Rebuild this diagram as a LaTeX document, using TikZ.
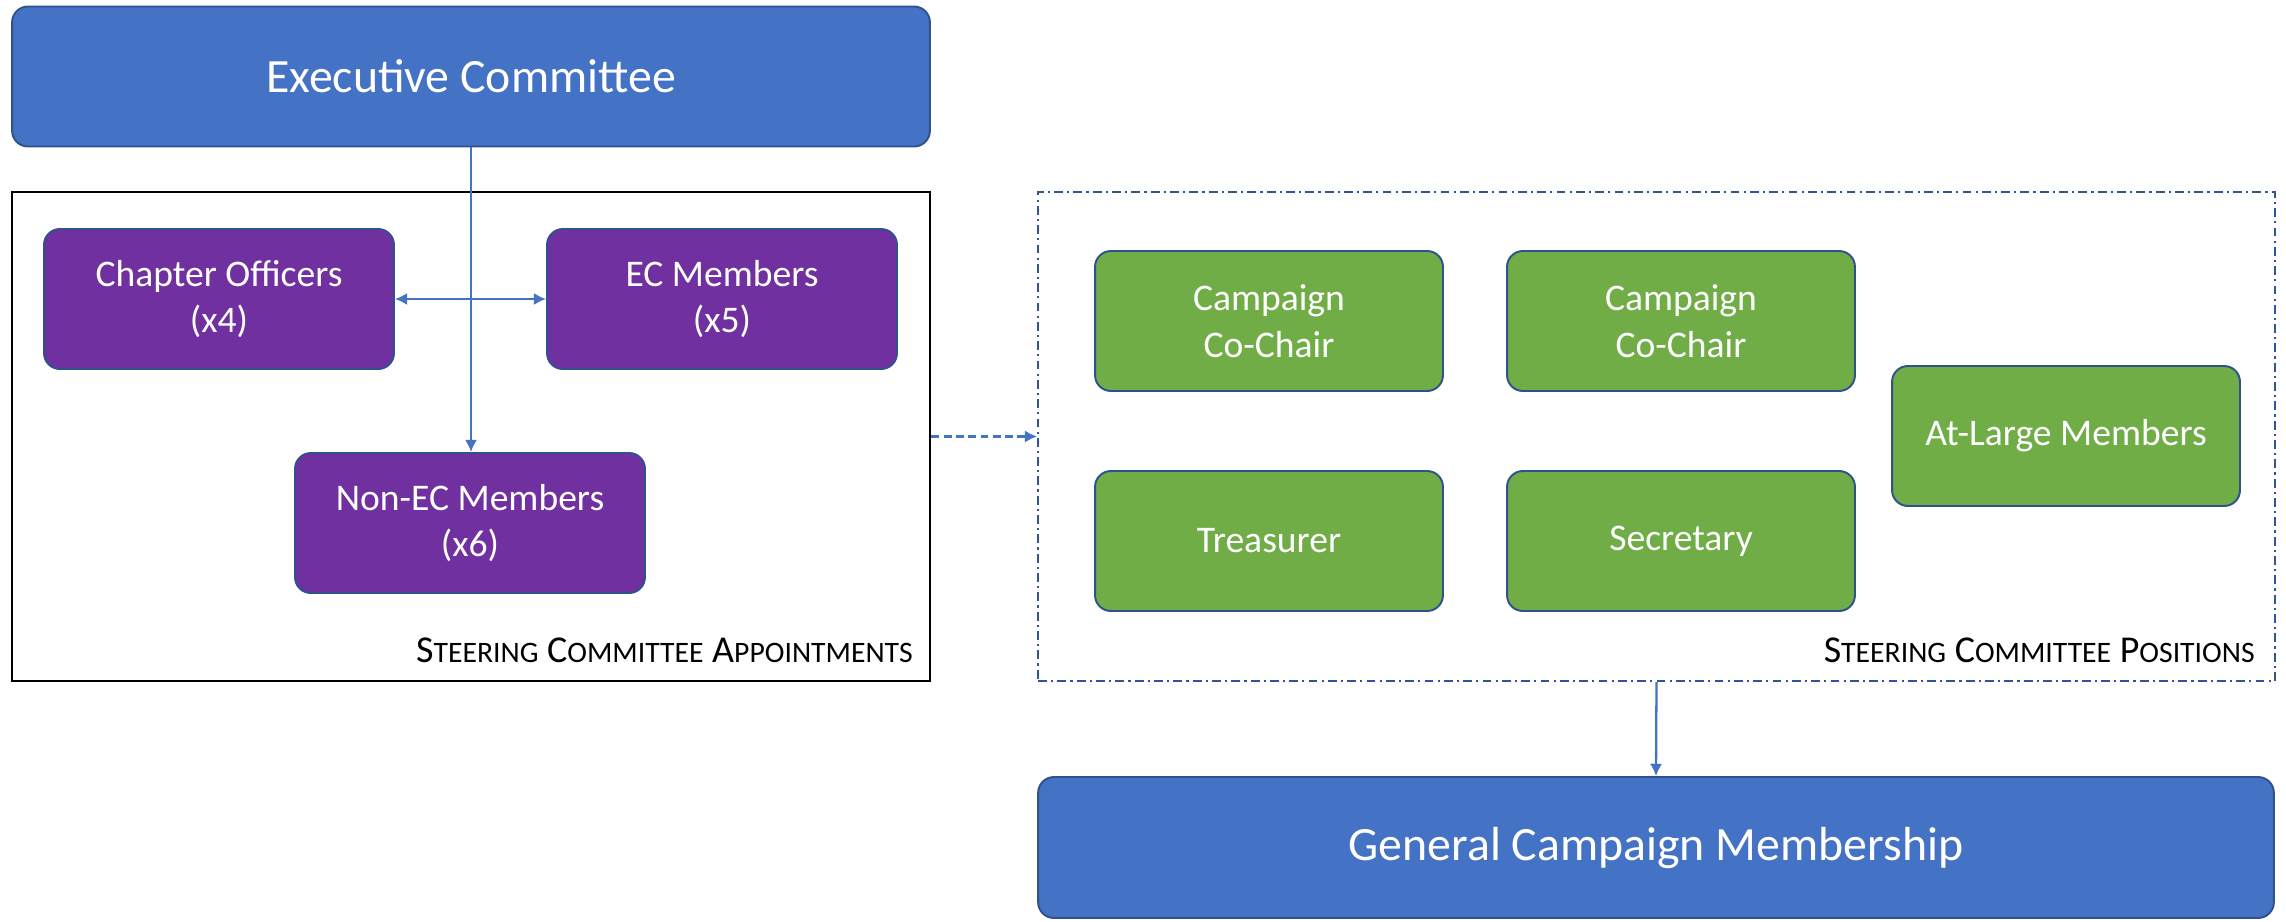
\documentclass[tikz,border=0pt]{standalone}
\usepackage{fontspec}
\setmainfont{Carlito}
\usetikzlibrary{arrows.meta}
\definecolor{boxblue}{HTML}{4472C4}
\definecolor{edgeblue}{HTML}{2F528F}
\definecolor{boxpurple}{HTML}{7030A0}
\definecolor{boxgreen}{HTML}{70AD47}
\definecolor{dashblue}{HTML}{2F5597}
\newcommand{\fsc}[2]{#1{\fontsize{16.9}{19}\selectfont #2}}
\tikzset{
  bigbox/.style={draw=edgeblue, line width=1.1pt, fill=boxblue, rounded corners=9pt, text=white, font=\fontsize{27.2}{32}\selectfont, minimum height=2.8cm, align=center, inner sep=0pt},
  purplebox/.style={draw=edgeblue, line width=1.1pt, fill=boxpurple, rounded corners=9pt, text=white, font=\fontsize{21.4}{26.5}\selectfont, minimum width=7cm, minimum height=2.8cm, align=center, inner sep=0pt},
  greenbox/.style={draw=edgeblue, line width=1.1pt, fill=boxgreen, rounded corners=9pt, text=white, font=\fontsize{21.4}{26.5}\selectfont, minimum width=6.96cm, minimum height=2.8cm, align=center, inner sep=0pt},
  conn/.style={draw=boxblue, line width=1.3pt, -{Latex[length=7pt,width=7pt]}},
  grouplabel/.style={font=\fontsize{21.6}{24}\selectfont, text=black, inner sep=0pt}
}
\begin{document}
\begin{tikzpicture}[x=0.02cm,y=-0.02cm]
\useasboundingbox (0,0) rectangle (2286,921);
% group boxes
\node[draw=black, line width=1.6pt, minimum width=18.36cm, minimum height=9.78cm, inner sep=0pt] (leftbox) at (471,436.5) {};
\node[draw=dashblue, line width=1.1pt, dash pattern=on 5pt off 2.4pt on 1.2pt off 2.4pt, minimum width=24.74cm, minimum height=9.78cm, inner sep=0pt] (rightbox) at (1656.5,436.5) {};
\node[grouplabel, anchor=base east] (lbl1) at (913,662) {\fsc{S}{TEERING} \fsc{C}{OMMITTEE} \fsc{A}{PPOINTMENTS}};
\node[grouplabel, anchor=base east] (lbl2) at (2255,662) {\fsc{S}{TEERING} \fsc{C}{OMMITTEE} \fsc{P}{OSITIONS}};
% top / bottom
\node[bigbox, minimum width=18.36cm] (exec) at (471,76.5) {Executive Committee};
\node[bigbox, minimum width=24.72cm, minimum height=2.82cm] (gcm) at (1656,847.5) {General Campaign Membership};
% purple
\node[purplebox] (chap) at (219,299) {Chapter Officers\\(x4)};
\node[purplebox] (ecm) at (722,299) {EC Members\\(x5)};
\node[purplebox] (nonec) at (470,523) {Non-EC Members\\(x6)};
% green
\node[greenbox] (cc1) at (1269,321) {Campaign\\Co-Chair};
\node[greenbox] (cc2) at (1681,321) {Campaign\\Co-Chair};
\node[greenbox] (atl) at (2066,436) {At-Large Members};
\node[greenbox] (treas) at (1269,541) {Treasurer};
\node[greenbox] (secr) at (1681,541) {Secretary};
% connectors
\draw[conn] (exec.south) -- (exec.south |- nonec.north);
\draw[conn, {Latex[length=7pt,width=7pt]}-{Latex[length=7pt,width=7pt]}] (chap.east) -- (ecm.west);
\draw[conn, dash pattern=on 4.5pt off 2.5pt, line width=1.7pt] (leftbox.east) -- (rightbox.west);
\draw[conn] (rightbox.south) -- (gcm.north);
\end{tikzpicture}
\end{document}
